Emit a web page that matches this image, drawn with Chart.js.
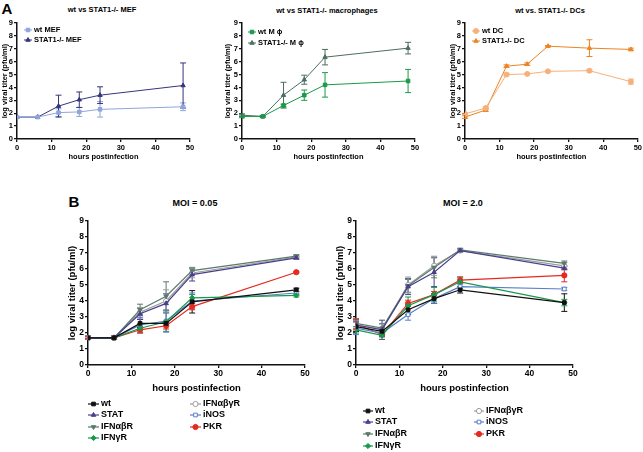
<!DOCTYPE html>
<html>
<head>
<meta charset="utf-8">
<script src="https://cdn.jsdelivr.net/npm/chart.js@4.4.1/dist/chart.umd.min.js"></script>
<style>
  body { margin: 0; background: #fff; }
  #fig { position: relative; width: 643px; height: 452px; overflow: hidden;
         font-family: "Liberation Sans", Arial, sans-serif; font-weight: bold; }
  #fig canvas { position: absolute; }
  .lbl { position: absolute; white-space: nowrap; transform: translate(-50%, -50%); color: #000; }
</style>
</head>
<body>
<div id="fig">
  <div class="lbl" style="left:7px;top:8px;font-size:15px">A</div>
  <div class="lbl" style="left:102px;top:9px;font-size:7.5px">wt vs STAT1-/- MEF</div>
  <div class="lbl" style="left:327px;top:10px;font-size:7.5px">wt vs STAT1-/- macrophages</div>
  <div class="lbl" style="left:550px;top:10px;font-size:7.5px">wt vs. STAT1-/- DCs</div>
  <div class="lbl" style="left:74px;top:201px;font-size:15px">B</div>
  <div class="lbl" style="left:195px;top:203px;font-size:9px">MOI = 0.05</div>
  <div class="lbl" style="left:463px;top:203px;font-size:9px">MOI = 2.0</div>

  <canvas id="a1" width="215" height="165" style="left:0;top:0"></canvas>
  <canvas id="a2" width="215" height="165" style="left:215px;top:0"></canvas>
  <canvas id="a3" width="213" height="165" style="left:430px;top:0"></canvas>
  <canvas id="b1" width="270" height="262" style="left:60px;top:190px"></canvas>
  <canvas id="b2" width="313" height="262" style="left:330px;top:190px"></canvas>
</div>

<script>
// ---- panel A: wt vs STAT1-/- cells (log titer, +/- error) ----
var hoursA = [0, 6, 12, 18, 24, 48];
var hoursDC = [0, 6, 12, 18, 24, 36, 48];

var wtMEF = [1.7, 1.7, 2.05, 2.1, 2.3, 2.5];
var wtMEFErr = [0, 0, 0.3, 0.35, 0.6, 0.3];
var statMEF = [1.7, 1.7, 2.55, 3.05, 3.4, 4.15];
var statMEFErr = [0, 0, 0.85, 0.6, 0.65, 1.75];

var wtMac = [1.75, 1.75, 2.6, 3.4, 4.2, 4.5];
var wtMacErr = [0.1, 0.05, 0.1, 0.4, 0.95, 0.9];
var statMac = [1.85, 1.75, 3.4, 4.6, 6.35, 7.05];
var statMacErr = [0.1, 0.05, 1.0, 0.35, 0.6, 0.45];

var wtDC = [1.95, 2.4, 5.0, 5.05, 5.25, 5.3, 4.45];
var wtDCErr = [0.05, 0.1, 0.1, 0.05, 0.05, 0.1, 0.2];
var statDC = [1.7, 2.25, 5.65, 5.8, 7.2, 7.05, 6.95];
var statDCErr = [0.1, 0.1, 0.1, 0.1, 0.05, 0.65, 0.1];

// ---- panel B: knockout panel at two MOIs ----
var hoursB = [0, 6, 12, 18, 24, 48];

// MOI = 0.05
var wt005 = [1.7, 1.7, 2.6, 2.6, 3.95, 4.7];
var wt005Err = [0.1, 0.1, 0.25, 0.15, 0.7, 0.1];
var stat005 = [1.7, 1.7, 3.2, 3.85, 5.65, 6.7];
var stat005Err = [0.1, 0.1, 0.35, 0.6, 0.4, 0.1];
var ab005 = [1.7, 1.7, 3.45, 4.3, 5.9, 6.8];
var ab005Err = [0.1, 0.1, 0.35, 0.9, 0.2, 0.1];
var g005 = [1.7, 1.7, 2.3, 2.7, 4.2, 4.35];
var g005Err = [0.1, 0.1, 0.3, 0.6, 0.2, 0.1];
var abg005 = [1.7, 1.7, 3.3, 4.0, 5.75, 6.75];
var abg005Err = [0.1, 0.1, 0.3, 0.7, 0.3, 0.1];
var inos005 = [1.7, 1.7, 2.5, 2.75, 4.0, 4.5];
var inos005Err = [0.1, 0.1, 0.45, 0.7, 0.5, 0.1];
var pkr005 = [1.7, 1.7, 2.2, 2.45, 3.65, 5.8];
var pkr005Err = [0.05, 0.05, 0.2, 0.2, 0.2, 0.05];

// MOI = 2.0
var wt20 = [2.4, 2.1, 3.45, 4.15, 4.7, 3.9];
var wt20Err = [0.3, 0.2, 0.3, 0.3, 0.2, 0.55];
var stat20 = [2.5, 2.2, 4.9, 5.8, 7.15, 6.05];
var stat20Err = [0.3, 0.6, 0.5, 0.9, 0.1, 0.1];
var ab20 = [2.6, 2.3, 4.95, 6.1, 7.2, 6.35];
var ab20Err = [0.3, 0.3, 0.4, 0.65, 0.1, 0.15];
var g20 = [2.2, 1.85, 3.7, 4.4, 5.2, 3.9];
var g20Err = [0.2, 0.1, 0.55, 0.45, 0.3, 0.2];
var abg20 = [2.5, 2.25, 5.0, 6.2, 7.15, 6.2];
var abg20Err = [0.3, 0.3, 0.5, 0.6, 0.1, 0.2];
var inos20 = [2.3, 2.0, 3.15, 4.15, 4.9, 4.75];
var inos20Err = [0.4, 0.2, 0.35, 0.3, 0.15, 0.1];
var pkr20 = [2.55, 1.9, 3.85, 4.4, 5.3, 5.6];
var pkr20Err = [0.3, 0.1, 0.2, 0.2, 0.2, 0.4];

var FONT = '"Liberation Sans", Arial, sans-serif';

function xy(xs, ys) {
  return xs.map(function (x, i) { return { x: x, y: ys[i] }; });
}

// marker shapes
var SQ = { style: "rect" }, TRI = { style: "triangle" }, DOWN = { style: "triangle", rot: 180 },
    DIA = { style: "rectRot" }, CIRC = { style: "circle" };

function series(label, xs, ys, err, color, shape, open, size) {
  return {
    label: label,
    data: xy(xs, ys),
    errors: err,
    borderColor: color,
    backgroundColor: open ? "#fff" : color,
    borderWidth: size.line,
    pointStyle: shape.style,
    pointRotation: shape.rot || 0,
    pointRadius: size.r,
    pointBorderWidth: 1,
    pointBackgroundColor: open ? "#fff" : color,
    pointBorderColor: color,
    tension: 0,
  };
}

// draws +/- error bars with caps from dataset.errors
var errorBars = {
  id: "errorBars",
  beforeDatasetsDraw: function (chart) {
    var ctx = chart.ctx;
    var yScale = chart.scales.y;
    chart.data.datasets.forEach(function (ds, i) {
      if (!ds.errors) return;
      var meta = chart.getDatasetMeta(i);
      ctx.save();
      ctx.strokeStyle = ds.borderColor;
      ctx.lineWidth = 1;
      meta.data.forEach(function (pt, j) {
        var e = ds.errors[j];
        if (!e) return;
        var v = ds.data[j].y;
        var top = yScale.getPixelForValue(v + e);
        var bot = yScale.getPixelForValue(v - e);
        var cap = 3;
        ctx.beginPath();
        ctx.moveTo(pt.x, top); ctx.lineTo(pt.x, bot);
        ctx.moveTo(pt.x - cap, top); ctx.lineTo(pt.x + cap, top);
        ctx.moveTo(pt.x - cap, bot); ctx.lineTo(pt.x + cap, bot);
        ctx.stroke();
      });
      ctx.restore();
    });
  },
};

// legend placed at fixed rows (inside plot for A, two columns below for B)
var placedLegend = {
  id: "placedLegend",
  afterDraw: function (chart, args, opts) {
    if (!opts || !opts.rows) return;
    var ctx = chart.ctx;
    ctx.save();
    ctx.font = "bold " + opts.size + "px " + FONT;
    ctx.textBaseline = "middle";
    chart.data.datasets.forEach(function (ds, i) {
      var r = opts.rows[i];
      if (!r) return;
      var x = r[0], y = r[1];
      ctx.strokeStyle = ds.borderColor;
      ctx.lineWidth = ds.borderWidth;
      ctx.beginPath();
      ctx.moveTo(x, y); ctx.lineTo(x + opts.lineLen, y);
      ctx.stroke();
      ctx.fillStyle = ds.pointBackgroundColor;
      ctx.lineWidth = 1;
      if (Chart.helpers && Chart.helpers.drawPoint) {
        Chart.helpers.drawPoint(ctx, {
          pointStyle: ds.pointStyle, rotation: ds.pointRotation,
          radius: ds.pointRadius, borderWidth: 1,
        }, x + opts.lineLen / 2, y);
      } else {
        ctx.fillRect(x + opts.lineLen / 2 - 2, y - 2, 4, 4);
      }
      ctx.fillStyle = "#000";
      ctx.fillText(ds.label, x + opts.lineLen + 2, y);
    });
    ctx.restore();
  },
};

function makeChart(id, datasets, g) {
  var tickFont = { family: FONT, size: g.tick, weight: "bold" };
  var titleFont = { family: FONT, size: g.title, weight: "bold" };
  return new Chart(document.getElementById(id), {
    type: "line",
    data: { datasets: datasets },
    options: {
      responsive: false,
      animation: false,
      layout: { padding: { left: 0, top: g.top, right: g.right, bottom: g.bottom } },
      plugins: {
        legend: { display: false },
        tooltip: { enabled: false },
        placedLegend: g.legend,
      },
      scales: {
        x: {
          type: "linear", min: 0, max: 50,
          ticks: { stepSize: 10, color: "#000", font: tickFont, padding: 1, maxRotation: 0 },
          grid: { drawOnChartArea: false, tickLength: 3, color: "#111", lineWidth: 1.3 },
          border: { color: "#111", width: 1.5 },
          title: { display: true, text: "hours postinfection", color: "#000", font: titleFont,
                   padding: { top: 0, bottom: g.xTitlePad } },
          afterFit: function (s) { s.height = g.xh; },
        },
        y: {
          min: 0, max: 9,
          ticks: { stepSize: 1, color: "#000", font: tickFont, padding: 1 },
          grid: { drawOnChartArea: false, tickLength: 3, color: "#111", lineWidth: 1.3 },
          border: { color: "#111", width: 1.5 },
          title: { display: true, text: "log viral titer (pfu/ml)", color: "#000", font: titleFont,
                   padding: { top: g.yTitlePad, bottom: 0 } },
          afterFit: function (s) { s.width = g.yw; },
        },
      },
    },
    plugins: [errorBars, placedLegend],
  });
}

var sizeA = { line: 1, r: 2.5 };
var sizeB = { line: 1.2, r: 2.6 };

makeChart("a1", [
  series("wt MEF", hoursA, wtMEF, wtMEFErr, "#8ea5dc", SQ, false, sizeA),
  series("STAT1-/- MEF", hoursA, statMEF, statMEFErr, "#35357a", TRI, false, sizeA),
], { top: 23, right: 25, bottom: 0, xh: 26, yw: 17, tick: 7.5, title: 7.5, xTitlePad: 4, yTitlePad: 0.5,
     legend: { rows: [[24, 30], [24, 40]], lineLen: 8, size: 7.5 } });

makeChart("a2", [
  series("wt M \u03d5", hoursA, wtMac, wtMacErr, "#1a9a4a", SQ, false, sizeA),
  series("STAT1-/- M \u03d5", hoursA, statMac, statMacErr, "#4b6e5d", TRI, false, sizeA),
], { top: 23, right: 15, bottom: 0, xh: 26, yw: 27, tick: 7.5, title: 7.5, xTitlePad: 4, yTitlePad: 8.5,
     legend: { rows: [[33, 32], [33, 43]], lineLen: 8, size: 7.5 } });

makeChart("a3", [
  series("wt DC", hoursDC, wtDC, wtDCErr, "#f6b07c", CIRC, false, sizeA),
  series("STAT1-/- DC", hoursDC, statDC, statDCErr, "#ec8422", TRI, false, sizeA),
], { top: 23, right: 5, bottom: 0, xh: 26, yw: 35, tick: 7.5, title: 7.5, xTitlePad: 4, yTitlePad: 18.5,
     legend: { rows: [[42, 31], [42, 41]], lineLen: 8, size: 7.5 } });

function panelB(ys) {
  return [
    series("wt", hoursB, ys[0], ys[1], "#111111", SQ, false, sizeB),
    series("STAT", hoursB, ys[2], ys[3], "#4a3f8e", TRI, false, sizeB),
    series("IFN\u03b1\u03b2R", hoursB, ys[4], ys[5], "#5b7b6b", DOWN, false, sizeB),
    series("IFN\u03b3R", hoursB, ys[6], ys[7], "#16994a", DIA, false, sizeB),
    series("IFN\u03b1\u03b2\u03b3R", hoursB, ys[8], ys[9], "#9c9c9c", CIRC, true, sizeB),
    series("iNOS", hoursB, ys[10], ys[11], "#5a7dcc", SQ, true, sizeB),
    series("PKR", hoursB, ys[12], ys[13], "#e52a20", CIRC, false, sizeB),
  ];
}

makeChart("b1", panelB([wt005, wt005Err, stat005, stat005Err, ab005, ab005Err, g005, g005Err,
                        abg005, abg005Err, inos005, inos005Err, pkr005, pkr005Err]),
  { top: 31, right: 25, bottom: 57, xh: 30, yw: 28, tick: 8.5, title: 9.5, xTitlePad: 1.3, yTitlePad: 6.3,
    legend: { rows: [[28, 214], [28, 225], [28, 237], [28, 248], [130, 214], [130, 225], [130, 237]],
              lineLen: 11, size: 9 } });

makeChart("b2", panelB([wt20, wt20Err, stat20, stat20Err, ab20, ab20Err, g20, g20Err,
                        abg20, abg20Err, inos20, inos20Err, pkr20, pkr20Err]),
  { top: 31, right: 70, bottom: 57, xh: 30, yw: 26, tick: 8.5, title: 9.5, xTitlePad: 1.3, yTitlePad: 4.3,
    legend: { rows: [[33, 221], [33, 232], [33, 244], [33, 256], [144, 221], [144, 232], [144, 244]],
              lineLen: 10, size: 9 } });
</script>
</body>
</html>
